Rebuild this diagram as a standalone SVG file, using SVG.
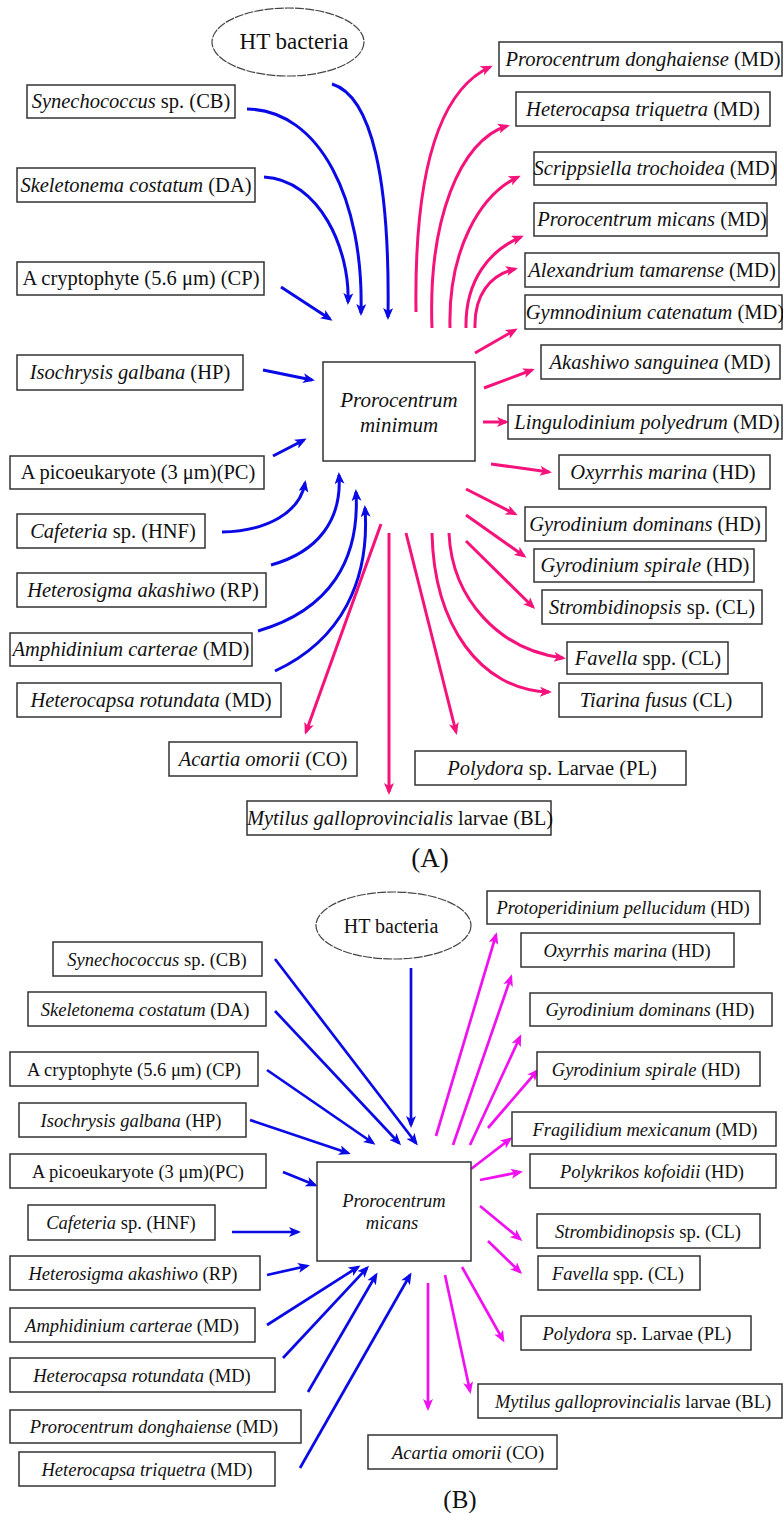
<svg xmlns="http://www.w3.org/2000/svg" width="783" height="1513" viewBox="0 0 783 1513">
<style>
.bx{fill:#fff;stroke:#333;stroke-width:1.5}
.el{fill:#fff;stroke:#444;stroke-width:1.2;stroke-dasharray:9 1.2}
.ta{font-family:"Liberation Serif","Times New Roman",serif;font-size:20.5px;fill:#111;text-anchor:middle}
.tb{font-family:"Liberation Serif","Times New Roman",serif;font-size:18.5px;fill:#111;text-anchor:middle}
.i{font-style:italic}
.bl{fill:none;stroke:#0a0ae6;stroke-width:3}
.pk{fill:none;stroke:#f5127a;stroke-width:3}
.mg{fill:none;stroke:#f010f0;stroke-width:2.7}
.blb{fill:none;stroke:#0a0ae6;stroke-width:2.7}
</style>
<defs>
<marker id="ab" markerUnits="userSpaceOnUse" markerWidth="13" markerHeight="10" refX="9" refY="5" orient="auto"><path d="M0,0 L12,5 L0,10 L3,5 z" fill="#0a0ae6"/></marker>
<marker id="ap" markerUnits="userSpaceOnUse" markerWidth="13" markerHeight="10" refX="9" refY="5" orient="auto"><path d="M0,0 L12,5 L0,10 L3,5 z" fill="#f5127a"/></marker>
<marker id="am" markerUnits="userSpaceOnUse" markerWidth="13" markerHeight="10" refX="9" refY="5" orient="auto"><path d="M0,0 L12,5 L0,10 L3,5 z" fill="#f010f0"/></marker>
</defs>
<rect width="783" height="1513" fill="#fff"/>

<!-- ===== Panel A connectors ===== -->
<g id="connectors-A">
<path class="bl" marker-end="url(#ab)" d="M332,84 C372,96 390,180 388,317"/>
<path class="bl" marker-end="url(#ab)" d="M247,109 C320,110 364,200 361,313"/>
<path class="bl" marker-end="url(#ab)" d="M264,177 C320,180 350,250 348,302"/>
<path class="bl" marker-end="url(#ab)" d="M281,287 L330,319"/>
<path class="bl" marker-end="url(#ab)" d="M263,370 L312,380"/>
<path class="bl" marker-end="url(#ab)" d="M273,456 L304,440"/>
<path class="bl" marker-end="url(#ab)" d="M222,532 C268,531 300,512 305,483"/>
<path class="bl" marker-end="url(#ab)" d="M271,565 C318,552 342,520 339,475"/>
<path class="bl" marker-end="url(#ab)" d="M258,631 C330,610 360,560 356,492"/>
<path class="bl" marker-end="url(#ab)" d="M275,671 C342,640 370,580 365,508"/>
<path class="pk" marker-end="url(#ap)" d="M381,524 L306,732"/>
<path class="pk" marker-end="url(#ap)" d="M389,533 L389,792"/>
<path class="pk" marker-end="url(#ap)" d="M406,533 L456,732"/>
<path class="pk" marker-end="url(#ap)" d="M432,533 C434,625 480,690 549,692"/>
<path class="pk" marker-end="url(#ap)" d="M449,533 C452,600 500,650 563,658"/>
<path class="pk" marker-end="url(#ap)" d="M466,541 L533,607"/>
<path class="pk" marker-end="url(#ap)" d="M466,515 L524,556"/>
<path class="pk" marker-end="url(#ap)" d="M466,489 L515,514"/>
<path class="pk" marker-end="url(#ap)" d="M491,464 L549,472"/>
<path class="pk" marker-end="url(#ap)" d="M483,422 L506,422"/>
<path class="pk" marker-end="url(#ap)" d="M484,388 L532,370"/>
<path class="pk" marker-end="url(#ap)" d="M475,353 L515,330"/>
<path class="pk" marker-end="url(#ap)" d="M475,328 C474,295 490,275 515,269"/>
<path class="pk" marker-end="url(#ap)" d="M466,328 C465,280 490,250 521,237"/>
<path class="pk" marker-end="url(#ap)" d="M450,328 C448,250 480,195 518,177"/>
<path class="pk" marker-end="url(#ap)" d="M432,328 C428,220 460,140 507,126"/>
<path class="pk" marker-end="url(#ap)" d="M416,312 C414,170 440,90 490,67"/>
</g>

<!-- ===== Panel A nodes ===== -->
<g id="A-ht"><ellipse class="el" cx="288" cy="42" rx="76" ry="34"/><text x="294" y="49" class="ta" style="font-size:23px">HT bacteria</text></g>
<g id="A-center"><rect class="bx" x="323" y="362" width="152" height="99"/><text x="399" y="407" class="ta i" style="font-size:21px">Prorocentrum</text><text x="399" y="432" class="ta i" style="font-size:21px">minimum</text></g>
<g id="A-syn"><rect class="bx" x="27" y="85" width="208" height="33"/><text x="131" y="108" class="ta"><tspan class="i">Synechococcus</tspan> sp. (CB)</text></g>
<g id="A-ske"><rect class="bx" x="17" y="168" width="238" height="34"/><text x="136" y="192" class="ta"><tspan class="i">Skeletonema costatum</tspan> (DA)</text></g>
<g id="A-cry"><rect class="bx" x="17" y="262" width="247" height="33"/><text x="141" y="285" class="ta">A cryptophyte (5.6 μm) (CP)</text></g>
<g id="A-iso"><rect class="bx" x="17" y="355" width="226" height="35"/><text x="130" y="379" class="ta"><tspan class="i">Isochrysis galbana</tspan> (HP)</text></g>
<g id="A-pic"><rect class="bx" x="10" y="456" width="254" height="33"/><text x="138" y="479" class="ta">A picoeukaryote (3 μm)(PC)</text></g>
<g id="A-caf"><rect class="bx" x="17" y="514" width="188" height="34"/><text x="113" y="538" class="ta"><tspan class="i">Cafeteria</tspan> sp. (HNF)</text></g>
<g id="A-het"><rect class="bx" x="17" y="573" width="249" height="34"/><text x="143" y="597" class="ta"><tspan class="i">Heterosigma akashiwo</tspan> (RP)</text></g>
<g id="A-amp"><rect class="bx" x="10" y="633" width="242" height="33"/><text x="131" y="656" class="ta"><tspan class="i">Amphidinium carterae</tspan> (MD)</text></g>
<g id="A-hro"><rect class="bx" x="17" y="683" width="264" height="34"/><text x="151" y="707" class="ta"><tspan class="i">Heterocapsa rotundata</tspan> (MD)</text></g>
<g id="A-aca"><rect class="bx" x="169" y="742" width="188" height="34"/><text x="263" y="766" class="ta"><tspan class="i">Acartia omorii</tspan> (CO)</text></g>
<g id="A-myt"><rect class="bx" x="247" y="801" width="304" height="34"/><text x="400" y="825" class="ta"><tspan class="i">Mytilus galloprovincialis</tspan> larvae (BL)</text></g>
<g id="A-pol"><rect class="bx" x="415" y="751" width="271" height="34"/><text x="552" y="775" class="ta"><tspan class="i">Polydora</tspan> sp. Larvae (PL)</text></g>
<g id="A-pdo"><rect class="bx" x="499" y="42" width="283" height="34"/><text x="643" y="66" class="ta"><tspan class="i">Prorocentrum donghaiense</tspan> (MD)</text></g>
<g id="A-htr"><rect class="bx" x="516" y="92" width="254" height="34"/><text x="643" y="116" class="ta"><tspan class="i">Heterocapsa triquetra</tspan> (MD)</text></g>
<g id="A-scr"><rect class="bx" x="534" y="152" width="242" height="33"/><text x="655" y="175" class="ta"><tspan class="i">Scrippsiella trochoidea</tspan> (MD)</text></g>
<g id="A-pmi"><rect class="bx" x="534" y="203" width="233" height="33"/><text x="652" y="226" class="ta"><tspan class="i">Prorocentrum micans</tspan> (MD)</text></g>
<g id="A-ale"><rect class="bx" x="525" y="253" width="254" height="34"/><text x="652" y="277" class="ta"><tspan class="i">Alexandrium tamarense</tspan> (MD)</text></g>
<g id="A-gym"><rect class="bx" x="525" y="295" width="257" height="34"/><text x="655" y="319" class="ta"><tspan class="i">Gymnodinium catenatum</tspan> (MD)</text></g>
<g id="A-aka"><rect class="bx" x="541" y="345" width="239" height="34"/><text x="660" y="369" class="ta"><tspan class="i">Akashiwo sanguinea</tspan> (MD)</text></g>
<g id="A-lin"><rect class="bx" x="508" y="405" width="274" height="34"/><text x="647" y="429" class="ta"><tspan class="i">Lingulodinium polyedrum</tspan> (MD)</text></g>
<g id="A-oxy"><rect class="bx" x="559" y="455" width="211" height="34"/><text x="663" y="479" class="ta"><tspan class="i">Oxyrrhis marina</tspan> (HD)</text></g>
<g id="A-gdo"><rect class="bx" x="525" y="507" width="241" height="34"/><text x="645" y="531" class="ta"><tspan class="i">Gyrodinium dominans</tspan> (HD)</text></g>
<g id="A-gsp"><rect class="bx" x="534" y="549" width="220" height="33"/><text x="645" y="572" class="ta"><tspan class="i">Gyrodinium spirale</tspan> (HD)</text></g>
<g id="A-str"><rect class="bx" x="542" y="590" width="220" height="34"/><text x="652" y="614" class="ta"><tspan class="i">Strombidinopsis</tspan> sp. (CL)</text></g>
<g id="A-fav"><rect class="bx" x="567" y="642" width="161" height="32"/><text x="648" y="665" class="ta"><tspan class="i">Favella</tspan> spp. (CL)</text></g>
<g id="A-tia"><rect class="bx" x="559" y="683" width="203" height="34"/><text x="656" y="707" class="ta"><tspan class="i">Tiarina fusus</tspan> (CL)</text></g>
<text x="430" y="867" class="ta" style="font-size:27px">(A)</text>

<!-- ===== Panel B connectors ===== -->
<g id="connectors-B">
<path class="blb" marker-end="url(#ab)" d="M411,968 L411,1125"/>
<path class="blb" marker-end="url(#ab)" d="M275,959 L416,1143"/>
<path class="blb" marker-end="url(#ab)" d="M275,1011 L399,1143"/>
<path class="blb" marker-end="url(#ab)" d="M267,1070 L373,1143"/>
<path class="blb" marker-end="url(#ab)" d="M250,1120 L348,1153"/>
<path class="blb" marker-end="url(#ab)" d="M283,1172 L315,1185"/>
<path class="blb" marker-end="url(#ab)" d="M232,1232 L298,1232"/>
<path class="blb" marker-end="url(#ab)" d="M267,1275 L307,1266"/>
<path class="blb" marker-end="url(#ab)" d="M267,1325 L358,1267"/>
<path class="blb" marker-end="url(#ab)" d="M283,1358 L367,1268"/>
<path class="blb" marker-end="url(#ab)" d="M308,1392 L376,1275"/>
<path class="blb" marker-end="url(#ab)" d="M300,1468 L410,1275"/>
<path class="mg" marker-end="url(#am)" d="M436,1136 L496,935"/>
<path class="mg" marker-end="url(#am)" d="M453,1145 L511,977"/>
<path class="mg" marker-end="url(#am)" d="M470,1145 L520,1037"/>
<path class="mg" marker-end="url(#am)" d="M488,1128 L537,1071"/>
<path class="mg" marker-end="url(#am)" d="M471,1169 L510,1139"/>
<path class="mg" marker-end="url(#am)" d="M480,1180 L520,1172"/>
<path class="mg" marker-end="url(#am)" d="M480,1206 L520,1239"/>
<path class="mg" marker-end="url(#am)" d="M488,1241 L520,1272"/>
<path class="mg" marker-end="url(#am)" d="M462,1267 L503,1340"/>
<path class="mg" marker-end="url(#am)" d="M445,1275 L470,1391"/>
<path class="mg" marker-end="url(#am)" d="M428,1283 L428,1408"/>
</g>

<!-- ===== Panel B nodes ===== -->
<g id="B-ht"><ellipse class="el" cx="393.5" cy="925.5" rx="77.5" ry="33.5"/><text x="391" y="933" class="tb" style="font-size:20px">HT bacteria</text></g>
<g id="B-center"><rect class="bx" x="317" y="1162" width="154" height="99"/><text x="394" y="1207" class="tb i">Prorocentrum</text><text x="392" y="1229" class="tb i">micans</text></g>
<g id="B-syn"><rect class="bx" x="53" y="942" width="209" height="34"/><text x="157" y="965.5" class="tb"><tspan class="i">Synechococcus</tspan> sp. (CB)</text></g>
<g id="B-ske"><rect class="bx" x="28" y="992" width="238" height="34"/><text x="145" y="1015.5" class="tb"><tspan class="i">Skeletonema costatum</tspan> (DA)</text></g>
<g id="B-cry"><rect class="bx" x="10" y="1052" width="248" height="34"/><text x="134" y="1075.5" class="tb">A cryptophyte (5.6 μm) (CP)</text></g>
<g id="B-iso"><rect class="bx" x="19" y="1103" width="227" height="34"/><text x="131" y="1126.5" class="tb"><tspan class="i">Isochrysis galbana</tspan> (HP)</text></g>
<g id="B-pic"><rect class="bx" x="10" y="1154" width="256" height="34"/><text x="138" y="1177.5" class="tb">A picoeukaryote (3 μm)(PC)</text></g>
<g id="B-caf"><rect class="bx" x="28" y="1205" width="187" height="35"/><text x="121" y="1229" class="tb"><tspan class="i">Cafeteria</tspan> sp. (HNF)</text></g>
<g id="B-het"><rect class="bx" x="10" y="1256" width="250" height="34"/><text x="133" y="1279.5" class="tb"><tspan class="i">Heterosigma akashiwo</tspan> (RP)</text></g>
<g id="B-amp"><rect class="bx" x="10" y="1308" width="245" height="34"/><text x="132" y="1331.5" class="tb"><tspan class="i">Amphidinium carterae</tspan> (MD)</text></g>
<g id="B-hro"><rect class="bx" x="10" y="1358" width="265" height="34"/><text x="142" y="1381.5" class="tb"><tspan class="i">Heterocapsa rotundata</tspan> (MD)</text></g>
<g id="B-pdo"><rect class="bx" x="10" y="1410" width="291" height="33"/><text x="154" y="1433" class="tb"><tspan class="i">Prorocentrum donghaiense</tspan> (MD)</text></g>
<g id="B-htr"><rect class="bx" x="19" y="1452" width="256" height="34"/><text x="147" y="1475.5" class="tb"><tspan class="i">Heterocapsa triquetra</tspan> (MD)</text></g>
<g id="B-pro"><rect class="bx" x="487" y="891" width="273" height="33"/><text x="623" y="914" class="tb"><tspan class="i">Protoperidinium pellucidum</tspan> (HD)</text></g>
<g id="B-oxy"><rect class="bx" x="521" y="933" width="213" height="34"/><text x="627" y="956.5" class="tb"><tspan class="i">Oxyrrhis marina</tspan> (HD)</text></g>
<g id="B-gdo"><rect class="bx" x="530" y="993" width="242" height="33"/><text x="650" y="1016" class="tb"><tspan class="i">Gyrodinium dominans</tspan> (HD)</text></g>
<g id="B-gsp"><rect class="bx" x="537" y="1052" width="223" height="34"/><text x="646" y="1075.5" class="tb"><tspan class="i">Gyrodinium spirale</tspan> (HD)</text></g>
<g id="B-fra"><rect class="bx" x="512" y="1112" width="264" height="34"/><text x="645" y="1135.5" class="tb"><tspan class="i">Fragilidium mexicanum</tspan> (MD)</text></g>
<g id="B-pkk"><rect class="bx" x="530" y="1154" width="246" height="34"/><text x="652" y="1177.5" class="tb"><tspan class="i">Polykrikos kofoidii</tspan> (HD)</text></g>
<g id="B-str"><rect class="bx" x="537" y="1214" width="223" height="34"/><text x="648" y="1237.5" class="tb"><tspan class="i">Strombidinopsis</tspan> sp. (CL)</text></g>
<g id="B-fav"><rect class="bx" x="538" y="1256" width="162" height="34"/><text x="618" y="1279.5" class="tb"><tspan class="i">Favella</tspan> spp. (CL)</text></g>
<g id="B-pol"><rect class="bx" x="521" y="1316" width="230" height="34"/><text x="637" y="1339.5" class="tb"><tspan class="i">Polydora</tspan> sp. Larvae (PL)</text></g>
<g id="B-myt"><rect class="bx" x="478" y="1384" width="304" height="34"/><text x="633" y="1407.5" class="tb"><tspan class="i">Mytilus galloprovincialis</tspan> larvae (BL)</text></g>
<g id="B-aca"><rect class="bx" x="368" y="1435" width="189" height="34"/><text x="468" y="1458.5" class="tb"><tspan class="i">Acartia omorii</tspan> (CO)</text></g>
<text x="460" y="1508" class="tb" style="font-size:25px">(B)</text>
</svg>
